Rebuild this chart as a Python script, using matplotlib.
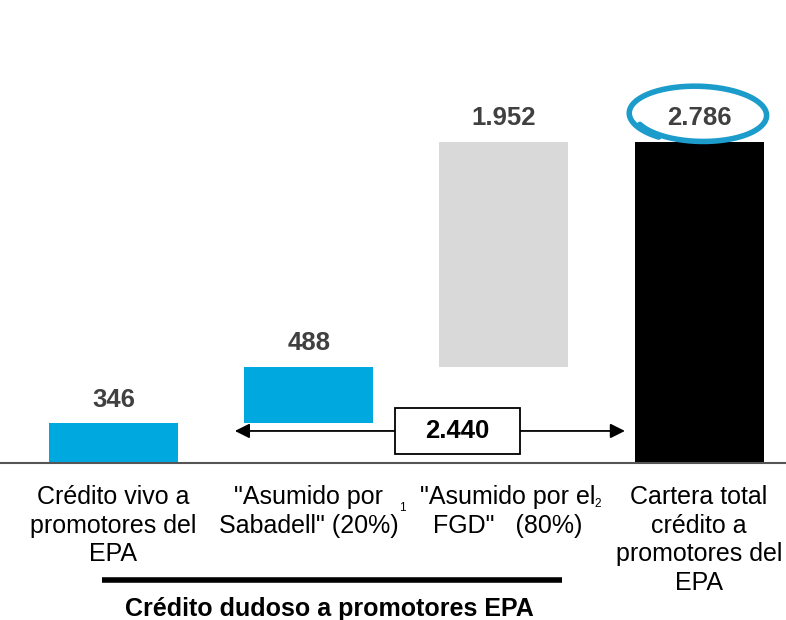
import numpy as np
import matplotlib
matplotlib.use("Agg")
import matplotlib.pyplot as plt
from matplotlib.patches import Rectangle

plt.rcParams['font.family'] = ['Liberation Sans', 'DejaVu Sans']

# waterfall steps (millions of euros)
categories = ["Crédito vivo a\npromotores del\nEPA",
              "\"Asumido por\nSabadell\" (20%)",
              "\"Asumido por el\nFGD\"   (80%)",
              "Cartera total\ncrédito a\npromotores del\nEPA"]
steps = [346, 488, 1952]
total = 2786
doubtful_total = 2440
value_labels = ["346", "488", "1.952", "2.786"]
footnotes = ["", "1", "2", ""]

blue = "#00A8E0"
grey = "#D9D9D9"
ring = "#1B9CCB"
label_grey = "#404040"

bottoms = list(np.cumsum([0] + steps[:-1])) + [0]
heights = steps + [total]
colors = [blue, blue, grey, "black"]
x = np.arange(len(heights))

fig = plt.figure(figsize=(7.86, 6.2), dpi=100)
ax = fig.add_axes([0, 0, 1, 1])
ax.set_xlim(-0.581, 3.445)
ax.set_ylim(-1362.6, 4018)
ax.axis("off")

ax.bar(x, heights, bottom=bottoms, width=0.66, color=colors, zorder=2)
ax.axhline(0, color="#555555", lw=1.5, zorder=3)

for xi, b, h, lab in zip(x, bottoms, heights, value_labels):
    ax.annotate(lab, (xi, b + h), xytext=(0, 17), textcoords="offset points",
                ha="center", va="center", fontsize=18.5, fontweight="bold",
                color=label_grey, zorder=5)

label_dx = [0, 0, 3, 0]
for xi, cat, dx in zip(x, categories, label_dx):
    ax.annotate(cat, (xi, 0), xytext=(dx, -16), textcoords="offset points",
                ha="center", va="top", fontsize=18, linespacing=1.24)

# footnote marks after the middle labels
ax.text(1.478, -390, footnotes[1], fontsize=8.5, ha="center", va="center")
ax.text(2.48, -355, footnotes[2], fontsize=8.5, ha="center", va="center")

# span of the doubtful credit, with the total in a box
arrow_y = 278
ax.annotate("", xy=(0.622, arrow_y), xytext=(2.62, arrow_y),
            arrowprops=dict(arrowstyle="<|-|>", color="black", lw=1.3,
                            mutation_scale=22, shrinkA=0, shrinkB=0), zorder=4)
ax.add_patch(Rectangle((1.44, 78), 0.64, 399, facecolor="white",
                       edgecolor="black", lw=1.3, zorder=5))
ax.text(1.76, arrow_y, f"{doubtful_total:,}".replace(",", "."), ha="center",
        va="center", fontsize=18.5, fontweight="bold", color="black", zorder=6)

# bracket line and caption under the doubtful credit columns
ax.plot([-0.059, 2.30], [-1015, -1015], color="black", lw=4,
        solid_capstyle="butt")
ax.text(1.104, -1268, "Crédito dudoso a promotores EPA", ha="center",
        va="center", fontsize=18, fontweight="bold")

# hand-drawn ring around the total
t = np.linspace(np.radians(205), np.radians(205 + 390), 300)
grow = 1 + 0.08 * (t - t[0]) / (t[-1] - t[0])
cx, cy = 3.0, total + 240
rx, ry = 0.335, 232
tilt = np.radians(-3)
ex = rx * np.cos(t) * grow
ey = ry * np.sin(t) * grow
ax.plot(cx + ex, cy + ey + ex * np.tan(tilt) * ry / rx, color=ring, lw=4,
        solid_capstyle="round", zorder=6)

fig.savefig("out.png", dpi=100)
